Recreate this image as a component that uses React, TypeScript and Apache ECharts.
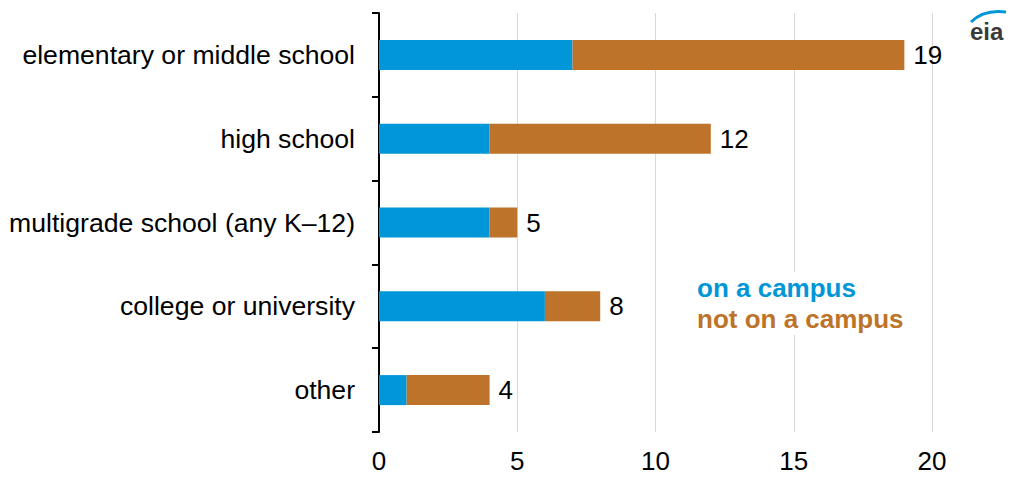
import React, { useEffect, useRef } from "react";
import * as echarts from "echarts";

const categories = [
  "elementary or middle school",
  "high school",
  "multigrade school (any K–12)",
  "college or university",
  "other",
];
const onCampus = [7, 4, 4, 6, 1];
const notOnCampus = [12, 8, 1, 2, 3];
const totals = [19, 12, 5, 8, 4];
const xTicks = [0, 5, 10, 15, 20];

const BLUE = "#0096d7";
const ORANGE = "#bd732a";
const FONT = "Liberation Sans, Arial, sans-serif";

export default function App() {
  const ref = useRef<HTMLDivElement>(null);
  useEffect(() => {
    const chart = echarts.init(ref.current!, null, { renderer: "svg" });
    chart.setOption({
      animation: false,
      grid: { left: 379, right: 84, top: 13, bottom: 45 },
      xAxis: {
        type: "value",
        min: xTicks[0],
        max: xTicks[xTicks.length - 1],
        interval: 5,
        axisLine: { show: false },
        axisTick: { show: false },
        axisLabel: { fontSize: 26, color: "#000", fontFamily: FONT, margin: 16 },
        splitLine: { show: true, lineStyle: { color: "#d9d9d9", width: 1 } },
      },
      yAxis: {
        type: "category",
        inverse: true,
        data: categories,
        axisLine: { show: true, lineStyle: { color: "#000", width: 2 } },
        axisTick: { show: true, length: 7, lineStyle: { color: "#000", width: 2 } },
        axisLabel: { fontSize: 26.6, color: "#000", fontFamily: FONT, margin: 24 },
      },
      series: [
        {
          name: "on a campus",
          type: "bar",
          stack: "s",
          barWidth: 30,
          data: onCampus,
          itemStyle: { color: BLUE },
        },
        {
          name: "not on a campus",
          type: "bar",
          stack: "s",
          barWidth: 30,
          data: notOnCampus,
          itemStyle: { color: ORANGE },
          label: {
            show: true,
            position: "right",
            distance: 9,
            fontSize: 26,
            color: "#000",
            fontFamily: FONT,
            formatter: (p: any) => String(totals[p.dataIndex]),
          },
        },
      ],
      graphic: [
        {
          type: "rect",
          shape: { x: 690, y: 272, width: 222, height: 63 },
          style: { fill: "#fff" },
          z: 100,
        },
        {
          type: "text",
          left: 697,
          top: 275,
          z: 101,
          style: { text: "on a campus", fill: BLUE, font: `bold 26px ${FONT}` },
        },
        {
          type: "text",
          left: 697,
          top: 306,
          z: 101,
          style: { text: "not on a campus", fill: ORANGE, font: `bold 26px ${FONT}` },
        },
        {
          type: "text",
          left: 970,
          top: 19,
          style: { text: "eia", fill: "#3a3a3a", font: `bold 24px ${FONT}` },
        },
        {
          type: "bezierCurve",
          shape: { x1: 971, y1: 22, cpx1: 984, cpy1: 9, x2: 1006, y2: 12 },
          style: { stroke: BLUE, lineWidth: 3, fill: null },
        },
      ],
    });
    return () => chart.dispose();
  }, []);
  return (
    <div
      ref={ref}
      style={{ position: "absolute", left: 0, top: 0, width: 1016, height: 477 }}
    />
  );
}
